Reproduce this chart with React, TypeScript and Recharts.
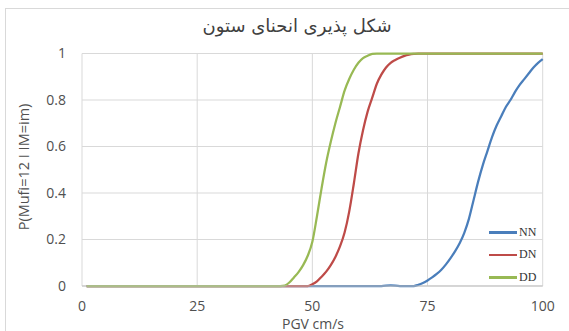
import React from 'react';
import { LineChart, Line, XAxis, YAxis, CartesianGrid, Legend } from 'recharts';

const chartTitle = 'شکل پذیری انحنای ستون';
const xAxisTitle = 'PGV cm/s';
const yAxisTitle = 'P(Mufi=12 I IM=im)';

const xTicks = [0, 25, 50, 75, 100];
const yTicks = [0, 0.2, 0.4, 0.6, 0.8, 1];

const nnPgv = [1, 65, 67, 69, 72, 73, 74, 75, 76, 77, 78, 79, 80, 81, 82, 83, 84, 85, 86, 87, 88, 89, 90, 91, 92, 93, 94, 95, 96, 97, 98, 99, 100];
const nnProb = [0, 0, 0.003, 0, 0, 0.005, 0.013, 0.024, 0.037, 0.052, 0.07, 0.093, 0.12, 0.15, 0.185, 0.23, 0.29, 0.37, 0.45, 0.52, 0.58, 0.64, 0.69, 0.73, 0.77, 0.8, 0.835, 0.865, 0.89, 0.915, 0.94, 0.96, 0.976];

const dnPgv = [1, 49, 50, 51, 52, 53, 54, 55, 56, 57, 58, 59, 60, 61, 62, 63, 64, 65, 66, 67, 68, 69, 70, 71, 72, 73, 100];
const dnProb = [0, 0, 0.008, 0.02, 0.04, 0.062, 0.09, 0.125, 0.17, 0.23, 0.32, 0.44, 0.57, 0.67, 0.75, 0.81, 0.87, 0.91, 0.94, 0.96, 0.972, 0.982, 0.99, 0.995, 0.998, 1, 1];

const ddPgv = [1, 43, 44, 45, 46, 47, 48, 49, 50, 51, 52, 53, 54, 55, 56, 57, 58, 59, 60, 61, 62, 63, 64, 100];
const ddProb = [0, 0, 0.002, 0.015, 0.037, 0.06, 0.09, 0.13, 0.19, 0.3, 0.42, 0.53, 0.62, 0.7, 0.77, 0.84, 0.89, 0.93, 0.96, 0.98, 0.99, 0.998, 1, 1];

const build = (xs: number[], ys: number[]) => xs.map((x, i) => ({ x, y: ys[i] }));

const series = [
  { name: 'NN', color: '#4a7ebb', data: build(nnPgv, nnProb) },
  { name: 'DN', color: '#be4b48', data: build(dnPgv, dnProb) },
  { name: 'DD', color: '#98b954', data: build(ddPgv, ddProb) },
];

const tickFont = { fontFamily: "'Open Sans', sans-serif", fontSize: 14, fill: '#505050' };

const LegendContent = () => (
  <div style={{ fontFamily: "'Liberation Serif', serif", fontSize: 12, color: '#333' }}>
    {series.map((s) => (
      <div key={s.name} style={{ display: 'flex', alignItems: 'center', height: 22.5 }}>
        <div style={{ width: 28, height: 2.5, background: s.color, marginRight: 2 }} />
        <span>{s.name}</span>
      </div>
    ))}
  </div>
);

export default function App() {
  return (
    <div style={{ position: 'absolute', left: 0, top: 0, width: 569, height: 331, overflow: 'hidden', background: '#fff' }}>
      <div style={{ position: 'absolute', left: 5, top: 8, width: 700, height: 500, border: '1px solid #d9d9d9', boxSizing: 'border-box' }} />
      <div style={{ position: 'absolute', left: 0, top: 15, width: 594, textAlign: 'center', direction: 'rtl', fontFamily: "'DejaVu Sans', sans-serif", fontSize: 18, color: '#404040' }}>
        {chartTitle}
      </div>
      <div style={{ position: 'absolute', left: 313, top: 323, transform: 'translate(-50%, -50%)', fontFamily: "'Open Sans', sans-serif", fontSize: 14, color: '#505050', whiteSpace: 'nowrap' }}>
        {xAxisTitle}
      </div>
      <div style={{ position: 'absolute', left: 23, top: 167, transform: 'translate(-50%, -50%) rotate(-90deg)', fontFamily: "'Open Sans', sans-serif", fontSize: 14.5, color: '#505050', whiteSpace: 'nowrap' }}>
        {yAxisTitle}
      </div>
      <LineChart width={569} height={331} margin={{ top: 53.5, right: 26.3, bottom: 0, left: 0 }} style={{ position: 'absolute', left: 0, top: 0 }}>
        <CartesianGrid stroke="#d9d9d9" strokeWidth={1} />
        <XAxis
          type="number"
          dataKey="x"
          domain={[0, 100]}
          ticks={xTicks}
          height={45}
          tickSize={0}
          tickMargin={15}
          tick={tickFont}
          axisLine={{ stroke: '#bfbfbf' }}
          tickLine={false}
          allowDuplicatedCategory={false}
        />
        <YAxis
          type="number"
          domain={[0, 1]}
          ticks={yTicks}
          width={82}
          tickSize={0}
          tickMargin={16}
          tick={tickFont}
          axisLine={false}
          tickLine={false}
        />
        {series.map((s) => (
          <Line
            key={s.name}
            name={s.name}
            data={s.data}
            dataKey="y"
            type="monotone"
            stroke={s.color}
            strokeWidth={2.25}
            dot={false}
            isAnimationActive={false}
          />
        ))}
        <Legend
          layout="vertical"
          align="center"
          verticalAlign="middle"
          content={LegendContent}
          wrapperStyle={{ left: 489, top: 221, width: 60 }}
        />
      </LineChart>
    </div>
  );
}
